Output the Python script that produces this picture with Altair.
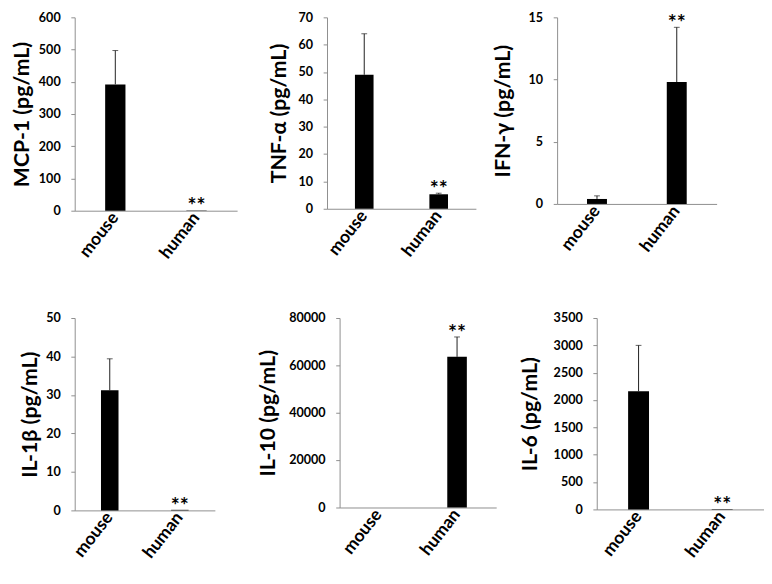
import altair as alt
import pandas as pd

categories = ["mouse", "human"]
stars = ["", "**"]

titles = ["MCP-1 (pg/mL)", "TNF-α (pg/mL)", "IFN-γ (pg/mL)",
          "IL-1β (pg/mL)", "IL-10 (pg/mL)", "IL-6 (pg/mL)"]

mcp1_mean = [392, 1]
mcp1_err = [105, 0]
tnf_mean = [49, 5.3]
tnf_err = [15, 0.4]
ifn_mean = [0.4, 9.8]
ifn_err = [0.25, 4.4]
il1b_mean = [31.2, 0.15]
il1b_err = [8.2, 0]
il10_mean = [0, 63600]
il10_err = [0, 8400]
il6_mean = [2160, 8]
il6_err = [840, 0]

y_max = [600, 70, 15, 50, 80000, 3500]
y_step = [100, 10, 5, 10, 20000, 500]

FONT = "Lato"
GRAY = "#8c8c8c"


def panel(title, mean, err, ymax, ystep, w, h, gap):
    df = pd.DataFrame({
        "cat": categories,
        "mean": mean,
        "err": err,
        "top": [m + e for m, e in zip(mean, err)],
        "star": stars,
    })
    xenc = alt.X(
        "cat:N", sort=categories,
        scale=alt.Scale(paddingInner=0.75, paddingOuter=0.375),
        axis=alt.Axis(title=None, labelAngle=-52, labelAlign="right",
                      labelBaseline="middle", labelFontSize=18, labelFont=FONT,
                      labelFontWeight="bold", labelColor="black", ticks=False,
                      domainColor=GRAY, labelPadding=4, labelOverlap=False),
    )
    yscale = alt.Scale(domain=[0, ymax], nice=False, zero=True)
    yaxis = alt.Axis(
        title=title, values=list(range(0, ymax + 1, ystep)), format="d",
        grid=False, tickSize=4, tickColor=GRAY, domainColor=GRAY,
        labelPadding=11, labelFontSize=13, labelFont=FONT,
        labelFontWeight="bold", labelColor="black",
        titleFont=FONT, titleFontSize=22, titleFontWeight="bold",
        titleColor="black", titleX=-gap, titleY=h / 2, titleAngle=270,
        titleBaseline="bottom", titleAlign="center",
    )
    base = alt.Chart(df).encode(x=xenc)
    bars = base.mark_bar(color="black").encode(
        y=alt.Y("mean:Q", scale=yscale, axis=yaxis))
    rule = base.transform_filter("datum.err > 0").mark_rule(
        color="#1a1a1a", strokeWidth=1).encode(
        y=alt.Y("mean:Q", scale=yscale, axis=yaxis), y2="top:Q")
    cap = base.transform_filter("datum.err > 0").mark_tick(
        color="#1a1a1a", size=6, thickness=1).encode(
        y=alt.Y("top:Q", scale=yscale, axis=yaxis))
    txt = base.mark_text(font=FONT, fontSize=22, fontWeight="bold",
                         color="black", baseline="alphabetic", dy=3).encode(
        y=alt.Y("top:Q", scale=yscale, axis=yaxis), text="star:N")
    return alt.layer(bars, rule, cap, txt).properties(width=w, height=h)


p1 = panel(titles[0], mcp1_mean, mcp1_err, y_max[0], y_step[0], 168, 200, 43)
p2 = panel(titles[1], tnf_mean, tnf_err, y_max[1], y_step[1], 154, 198, 38)
p3 = panel(titles[2], ifn_mean, ifn_err, y_max[2], y_step[2], 165, 193, 44)
p4 = panel(titles[3], il1b_mean, il1b_err, y_max[3], y_step[3], 145, 199, 35)
p5 = panel(titles[4], il10_mean, il10_err, y_max[4], y_step[4], 162, 196, 62)
p6 = panel(titles[5], il6_mean, il6_err, y_max[5], y_step[5], 173, 198, 57)

row1 = alt.hconcat(p1, alt.hconcat(p2, p3, spacing=17), spacing=32)
row2 = alt.hconcat(alt.hconcat(p4, p5, spacing=44), p6, spacing=24)

chart = alt.vconcat(row1, row2, spacing=52).properties(
    padding={"left": 3, "top": -6, "right": 0, "bottom": 0}
).configure_view(stroke=None)

chart.save("out.html", embed_options={"renderer": "svg", "actions": False})
